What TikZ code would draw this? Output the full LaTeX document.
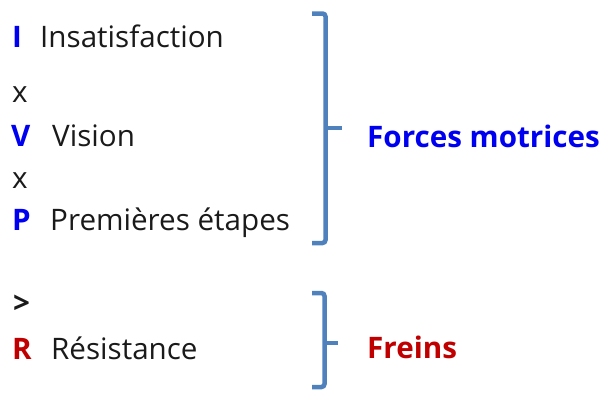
\documentclass[tikz,border=0pt]{standalone}
\usepackage{fontspec}
\setmainfont{Open Sans}
\definecolor{lblue}{RGB}{0,0,240}
\definecolor{lred}{RGB}{192,0,0}
\definecolor{brk}{RGB}{79,129,189}
\definecolor{txt}{RGB}{26,26,26}
\tikzset{
  lbl/.style={anchor=base west, inner sep=0pt, font=\fontsize{29.6}{32}\selectfont, text=txt},
  key/.style={anchor=base west, inner sep=0pt, font=\fontsize{29.6}{32}\selectfont\bfseries},
  brace/.style={draw=brk, line width=4.5pt, rounded corners=3pt, line cap=butt},
}
\begin{document}
\begin{tikzpicture}[x=1pt,y=-1pt]
\useasboundingbox (0,0) rectangle (604,394);
\node[key, text=lblue] (kI) at (12,47) {I};
\node[lbl] (tI) at (40,47) {Insatisfaction};
\node[lbl] (x1) at (12,102) {x};
\node[key, text=lblue] (kV) at (11,146) {V};
\node[lbl] (tV) at (52,146) {Vision};
\node[lbl] (x2) at (12,188) {x};
\node[key, text=lblue] (kP) at (12,230) {P};
\node[lbl] (tP) at (50,230) {Premières étapes};
\node[key, text=txt] (gt) at (13,313) {>};
\node[key, text=lred] (kR) at (12,359) {R};
\node[lbl] (tR) at (51,359) {Résistance};
\node[key, text=lblue] (force) at (367,147) {Forces motrices};
\node[key, text=lred] (frein) at (367,358) {Freins};
\coordinate (b1t) at (312,13.5);
\coordinate (b1b) at (312,243);
\coordinate (b1m) at (342,128);
\draw[brace] (b1t) -| (325.5,128) |- (b1b);
\draw[brace, rounded corners=0pt] (325.5,128) -- (b1m);
\coordinate (b2t) at (312,293);
\coordinate (b2b) at (312,387);
\coordinate (b2m) at (338,343);
\draw[brace] (b2t) -| (324.5,343) |- (b2b);
\draw[brace, rounded corners=0pt] (324.5,343) -- (b2m);
\end{tikzpicture}
\end{document}
